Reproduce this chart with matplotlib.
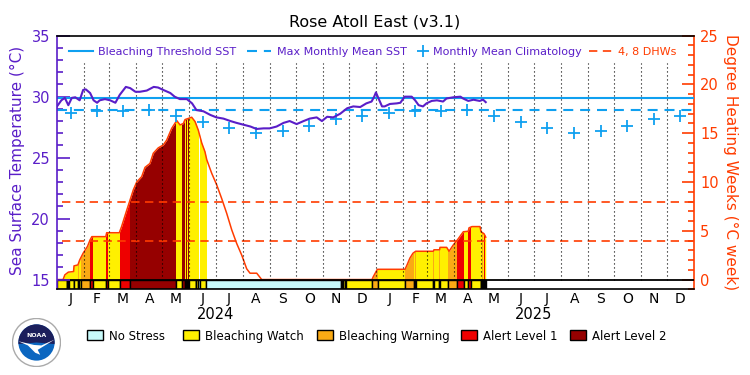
import numpy as np
import matplotlib
matplotlib.use("Agg")
import matplotlib.pyplot as plt
from matplotlib.patches import Rectangle, Circle, Wedge, Polygon
from matplotlib.lines import Line2D
from matplotlib.ticker import MultipleLocator

# ---- data (days counted from 2024-01-01) ----
sst_day = [0, 5, 9, 13, 17, 21, 26, 30, 33, 38, 42, 46, 49, 55, 61, 67, 72, 79, 84, 90,
           95, 103, 111, 116, 122, 130, 135, 141, 149, 155, 160, 168, 176, 183, 191, 199,
           206, 214, 222, 229, 237, 244, 252, 260, 267, 275, 283, 290, 298, 304, 310, 317,
           325, 333, 340, 348, 355, 361, 364, 366, 369, 373, 376, 382, 390, 394, 399, 407,
           411, 415, 420, 424, 430, 436, 443, 447, 455, 463, 466, 472, 478, 485, 489, 492]
sst_val = [29.2, 29.7, 29.9, 29.3, 29.9, 29.95, 29.7, 30.55, 30.6, 30.3, 29.7, 29.5, 29.7,
           29.8, 29.7, 29.5, 30.15, 30.8, 30.7, 30.4, 30.4, 30.5, 30.8, 30.75, 30.55, 30.3,
           30.0, 29.8, 29.8, 29.45, 28.9, 28.8, 28.5, 28.3, 28.2, 28.0, 27.85, 27.7, 27.55,
           27.35, 27.4, 27.4, 27.55, 27.85, 28.0, 27.75, 28.0, 28.2, 28.3, 28.0, 28.35, 28.3,
           28.6, 29.05, 29.2, 29.15, 29.45, 29.6, 30.0, 30.35, 29.85, 29.2, 29.2, 29.4, 29.45,
           29.5, 30.0, 30.0, 29.7, 29.3, 29.2, 29.45, 29.65, 29.7, 29.6, 29.85, 29.95, 30.0,
           29.85, 29.65, 29.75, 29.65, 29.75, 29.55]

dhw_day = [0, 7, 9, 13, 19, 19.5, 24, 26, 30, 35, 38, 40, 56, 57, 71.5, 74, 80, 84, 87.6,
           91.5, 97.2, 101, 106.7, 110.5, 116.2, 122, 125.9, 131.6, 137.4, 141.2, 145, 146.9,
           154.6, 158.4, 162.2, 166.1, 169.8, 171.8, 177.5, 183.3, 189, 194.7, 200.5, 206.2,
           212, 217.7, 221.5, 229.2, 234.9, 361.5, 363, 367.6, 399.4, 401.7, 405, 408.5,
           411.6, 431.8, 432.6, 439, 439.5, 447.2, 449.9, 454.8, 459.8, 463, 466.3, 472,
           472.8, 476.2, 485.4, 486.6, 490, 492]
dhw_val = [0, 0, 0.48, 0.76, 0.82, 1.4, 1.5, 2.0, 2.7, 3.4, 4.07, 4.4, 4.4, 4.8, 4.8, 5.4,
           7.1, 8.2, 9.2, 10.0, 10.55, 11.5, 11.9, 12.95, 13.5, 13.8, 14.3, 15.5, 16.3, 15.85,
           16.0, 16.4, 16.64, 16.2, 15.3, 14.0, 13.1, 12.3, 10.9, 9.7, 8.3, 6.8, 5.1, 3.7,
           2.5, 1.1, 0.65, 0.65, 0, 0, 0.3, 1.05, 1.05, 1.5, 2.2, 2.7, 2.9, 2.9, 3.05, 3.05,
           3.3, 3.3, 2.9, 3.55, 4.1, 4.5, 4.9, 4.95, 5.3, 5.43, 5.43, 4.9, 4.7, 4.35]

# stress level runs: start day and level (0 no stress .. 4 alert 2)
run_start = [0, 11, 12, 13, 14, 19, 20, 24, 25, 28, 38, 41, 56, 59, 72, 84, 137, 144, 147,
             148, 149, 150, 151, 159, 160, 162, 164, 171, 326, 327, 328, 331, 332, 362, 368,
             399, 410, 411, 412, 432, 433, 438, 439, 449, 459, 467, 472, 475, 486, 487, 488,
             489, 490, 491]
run_level = [1, 0, 1, 0, 1, 2, 1, 2, 1, 2, 3, 1, 3, 1, 3, 4, 1, 4, 1,
             4, 1, 4, 1, 2, 1, 0, 1, 0, 1, 0, 1, 0, 1, 2, 1,
             2, 1, 2, 1, 2, 1, 2, 1, 2, 3, 1, 3, 1, 3, 1, 2,
             1, 3, 1]
last_day = 492

mmm = 28.9
threshold = 29.9
clim_val = [28.64, 28.83, 28.83, 28.9, 28.42, 27.9, 27.4, 27.0, 27.2, 27.6, 28.17, 28.42]
dhw_levels = [4, 8]
month_letters = list("JFMAMJJASOND") * 2
years = ["2024", "2025"]

level_colors = ['#c8fafa', '#fff000', '#faaa14', '#ee0000', '#960000']
level_names = ['No Stress', 'Bleaching Watch', 'Bleaching Warning', 'Alert Level 1', 'Alert Level 2']

purple = '#5a1ec8'
orange = '#ff3c00'
sky = '#0fa0f0'

W, H = 750, 375
def fx(px):
    return px / W
def fy(py):
    return 1 - py / H

months = np.arange('2024-01', '2026-02', dtype='datetime64[M]')
month_start = (months.astype('datetime64[D]') - np.datetime64('2024-01-01')).astype(int)
month_mid = (month_start[:-1] + month_start[1:]) / 2
total_days = month_start[-1]

plt.rcParams['font.family'] = 'DejaVu Sans'
fig = plt.figure(figsize=(7.5, 3.75), dpi=100)
ax = fig.add_axes([fx(57), fy(289.3), fx(694) - fx(57), fy(35.7) - fy(289.3)])
ax2 = ax.twinx()
ax.set_zorder(ax2.get_zorder() + 1)
ax.patch.set_visible(False)

ax.set_xlim(0, total_days)
ax.set_ylim(14.2, 35)
ax2.set_ylim(-1, 25)

# ---- DHW fill by stress level, plus bottom stress bar ----
run_end = run_start[1:] + [last_day]
for a, b, lev in zip(run_start, run_end, run_level):
    if lev > 0:
        poly = ax2.fill_between(dhw_day, 0, dhw_val, color=level_colors[lev], lw=0, zorder=1)
        poly.set_clip_path(Rectangle((a, -1), b - a, 40, transform=ax2.transData))
for a, b, lev in zip(run_start, run_end, run_level):
    ax2.add_patch(Rectangle((a, -1), b - a, 1, facecolor=level_colors[lev],
                            edgecolor='k', lw=1, zorder=2))

for lv in dhw_levels:
    ax2.axhline(lv, xmin=0.008, color=orange, lw=1.2, ls=(0, (5, 3.3)), zorder=2.5)
ax2.plot(dhw_day, dhw_val, color=orange, lw=1.1, zorder=3)
ax2.axhline(0, color='k', lw=1.3, zorder=4)

# ---- SST side ----
for d in month_start[1:-1]:
    ax.plot([d, d], [15, 32.8], color='k', lw=0.8, ls=(0, (1, 2.6)), zorder=1)
ax.axhline(threshold, color=sky, lw=1.5, zorder=2)
ax.axhline(mmm, color=sky, lw=1.5, ls=(0, (4.8, 3.3)), zorder=2)
ax.plot(month_mid, clim_val * 2, '+', color=sky, ms=8, mew=1.3, zorder=3)
ax.plot(sst_day, sst_val, color=purple, lw=1.5, zorder=4)

# ---- axes styling ----
for s in ['top', 'bottom']:
    ax.spines[s].set_color('k')
    ax.spines[s].set_linewidth(1.2)
ax.spines['left'].set_color(purple)
ax.spines['left'].set_linewidth(1.2)
ax.spines['right'].set_visible(False)
ax2.spines['left'].set_visible(False)
ax2.spines['top'].set_visible(False)
ax2.spines['bottom'].set_visible(False)
ax2.spines['right'].set_color(orange)
ax2.spines['right'].set_linewidth(1.2)

ax.set_yticks([15, 20, 25, 30, 35])
ax.yaxis.set_minor_locator(MultipleLocator(1))
ax.tick_params(axis='y', which='both', direction='in', colors=purple, width=1.2,
               labelsize=10.5, pad=5)
ax.tick_params(axis='y', which='major', length=9)
ax.tick_params(axis='y', which='minor', length=4.5)

ax2.set_yticks([0, 5, 10, 15, 20, 25])
ax2.yaxis.set_minor_locator(MultipleLocator(1))
ax2.tick_params(axis='y', which='both', direction='in', colors=orange, width=1.2,
                labelsize=10.5, pad=4.5)
ax2.tick_params(axis='y', which='major', length=9)
ax2.tick_params(axis='y', which='minor', length=4.5)

ax.set_xticks(month_mid)
ax.set_xticklabels(month_letters)
ax.tick_params(axis='x', length=0, pad=2, labelsize=10)
for i, y in enumerate(years):
    ax.text(month_start[12 * i + 6], -0.10, y, transform=ax.get_xaxis_transform(),
            ha='center', va='center', fontsize=10.5)

fig.text(fx(375), fy(22), 'Rose Atoll East (v3.1)', ha='center', va='center', fontsize=11.5)
fig.text(fx(17), fy(160), 'Sea Surface Temperature (°C)', rotation=90, color=purple,
         ha='center', va='center', fontsize=11)
fig.text(fx(731), fy(162), 'Degree Heating Weeks (°C week)', rotation=-90, color=orange,
         ha='center', va='center', fontsize=11)

# ---- top legend ----
ly = fy(51)
fig.add_artist(Line2D([fx(69), fx(93)], [ly, ly], color=sky, lw=1.5))
fig.text(fx(98), fy(55), 'Bleaching Threshold SST', color=purple, fontsize=8, va='baseline')
fig.add_artist(Line2D([fx(247), fx(271)], [ly, ly], color=sky, lw=1.5, ls=(0, (4.8, 3.3))))
fig.text(fx(277), fy(55), 'Max Monthly Mean SST', color=purple, fontsize=8, va='baseline')
fig.add_artist(Line2D([fx(423)], [ly], marker='+', color=sky, ms=8, mew=1.3))
fig.text(fx(433), fy(55), 'Monthly Mean Climatology', color=purple, fontsize=8, va='baseline')
fig.add_artist(Line2D([fx(589), fx(612)], [ly, ly], color=orange, lw=1.2, ls=(0, (5, 3.3))))
fig.text(fx(618), fy(55), '4, 8 DHWs', color=orange, fontsize=8, va='baseline')

# ---- bottom legend ----
box_x = [87, 183, 317, 461, 570]
for bx, c, name in zip(box_x, level_colors, level_names):
    fig.add_artist(Rectangle((fx(bx), fy(340)), fx(16), fy(330) - fy(340),
                             facecolor=c, edgecolor='k', lw=1, transform=fig.transFigure))
    fig.text(fx(bx + 22), fy(340), name, fontsize=8.5, va='baseline')

# ---- NOAA logo ----
lax = fig.add_axes([fx(12), fy(367), fx(61) - fx(12), fy(318) - fy(367)])
lax.set_xlim(-1, 1)
lax.set_ylim(-1, 1)
lax.set_aspect('equal')
lax.axis('off')
lax.add_patch(Circle((0, 0), 0.98, fc='white', ec='#aaaaaa', lw=1))
lax.add_patch(Circle((0, 0), 0.74, fc='#0b66c0', ec='none'))
lax.add_patch(Wedge((0, 0), 0.74, -5, 185, fc='#1c1f5c', ec='none'))
lax.add_patch(Polygon([(-0.74, 0.05), (-0.35, -0.12), (-0.05, -0.42), (0.15, -0.5),
                       (0.05, -0.3), (0.74, 0.12), (0.2, -0.12), (-0.1, -0.1)],
                      fc='white', ec='none'))
lax.text(0, 0.3, 'NOAA', color='white', fontsize=4.5, fontweight='bold',
         ha='center', va='center')

fig.savefig('out.png', dpi=100)
